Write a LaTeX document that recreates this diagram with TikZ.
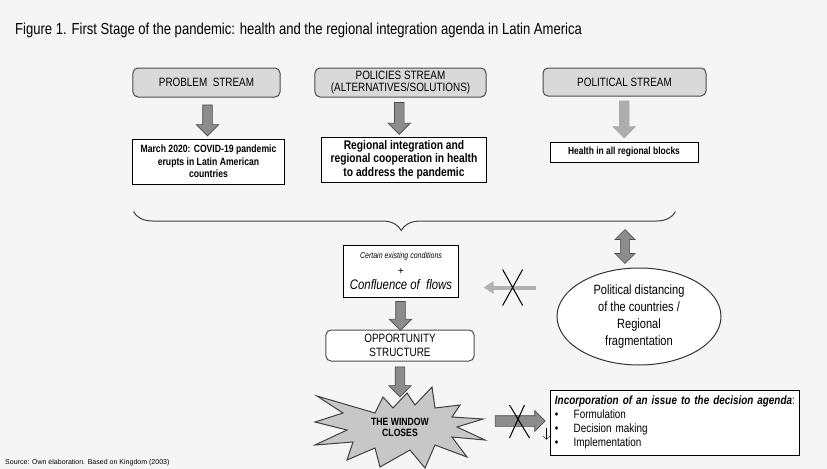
\documentclass[tikz,border=0pt]{standalone}
\usepackage{fontspec}
\setmainfont{Liberation Sans}
\newfontfamily\narrowfont[FakeStretch=0.82]{Liberation Sans}
\usetikzlibrary{calc,positioning,shapes.arrows,shapes.geometric,decorations.pathreplacing,arrows.meta}

\tikzset{
	streambox/.style={draw=black!70, fill=black!15, rounded corners=0.15cm, line width=0.3mm, align=center, inner sep=0, font=\narrowfont\fontsize{10.3}{11}\selectfont},
	factbox/.style={draw=black, fill=white, line width=0.3mm, align=center, inner sep=0, font=\narrowfont\bfseries\fontsize{9}{10.8}\selectfont},
	fatdown/.style={single arrow, draw=black!70, fill=black!45, line width=0.2mm, minimum width=0.66cm, single arrow head extend=0.195cm, inner xsep=0, inner ysep=0.135cm, rotate=-90},
	crossout/.style={line width=0.3mm, color=black},
}

\begin{document}
\begin{tikzpicture}[x=0.03cm, y=-0.03cm]
		%%%%% START %%%%%
		
		\fill[black!4] (0, 0) rectangle (827, 469);
		\useasboundingbox (0, 0) rectangle (827, 469);
		
		\node[anchor=west, inner sep=0, font=\narrowfont\fontsize{13.6}{15}\selectfont] (title) at (15, 30) {Figure 1. First Stage of the pandemic: health and the regional integration agenda in Latin America};
		
		% the three streams
		\node[streambox, minimum width=4.41cm, minimum height=0.87cm] (prob) at (206.5, 82.5) {PROBLEM\ \ STREAM};
		\node[streambox, minimum width=5.13cm, minimum height=0.87cm] (pol) at (400.5, 82.5) {POLICIES STREAM\\(ALTERNATIVES/SOLUTIONS)};
		\node[streambox, minimum width=4.89cm, minimum height=0.84cm] (polit) at (624.5, 82) {POLITICAL STREAM};
		
		\node[factbox, minimum width=4.53cm, minimum height=1.35cm] (march) at (208.5, 161.5) {March 2020: COVID-19 pandemic\\erupts in Latin American\\countries};
		\node[factbox, minimum width=4.92cm, minimum height=1.35cm, font=\narrowfont\bfseries\fontsize{10.7}{11.6}\selectfont] (reg) at (404, 159.5) {Regional integration and\\regional cooperation in health\\to address the pandemic};
		\node[factbox, minimum width=4.44cm, minimum height=0.6cm, font=\narrowfont\bfseries\fontsize{8.8}{10}\selectfont] (health) at (624, 152) {Health in all regional blocks};
		
		\node[fatdown, minimum height=0.93cm] (a1) at ($(prob.south)!0.5!(march.north)$) {};
		\node[fatdown, minimum height=0.96cm] (a2) at ($(pol.south)!0.5!(reg.north)+(-3, -1)$) {};
		\node[fatdown, minimum height=1.11cm, draw=black!32, fill=black!32] (a3) at ($(polit.south)!0.5!(health.north)+(0, -2)$) {};
		
		% brace under the streams
		\coordinate (brL) at ($(march.south west)+(1, 27)$);
		\coordinate (brR) at ($(brL)+(542, 0)$);
		\draw[line width=0.3mm, color=black!75, decorate, decoration={brace, mirror, amplitude=0.57cm, aspect=0.494}] (brL) -- (brR);
		
		% middle column
		\node[draw=black, fill=white, line width=0.3mm, minimum width=3.42cm, minimum height=1.56cm, align=center, inner sep=0] (cert) at (401, 271) {{\narrowfont\itshape\fontsize{7.3}{9}\selectfont Certain existing conditions}\\[1pt]{\fontsize{9}{10}\selectfont +}\\[1pt]{\narrowfont\itshape\fontsize{11.8}{13}\selectfont Confluence of\ \ flows}};
		\node[streambox, fill=white, minimum width=4.44cm, minimum height=0.93cm, font=\narrowfont\fontsize{10.3}{12}\selectfont] (opp) at (400, 345.5) {OPPORTUNITY\\STRUCTURE};
		\node[fatdown, minimum height=0.87cm] (a4) at ($(cert.south)!0.5!(opp.north)$) {};
		
		\coordinate (winc) at (400, 428);
		\draw[line width=0.3mm, color=black!75, fill=black!22, shift={(winc)}] (-85, -6) -- (-57, -15) -- (-83, -32) -- (-25, -15) -- (-17, -31) -- (-7, -20) -- (7, -35) -- (15, -23) -- (32, -41) -- (35, -20) -- (60, -23) -- (52, -11) -- (83, -9) -- (57, -1) -- (85, 12) -- (52, 9) -- (67, 29) -- (35, 17) -- (25, 40) -- (10, 22) -- (-20, 39) -- (-25, 20) -- (-53, 32) -- (-47, 14) -- (-85, 17) -- (-53, 2) -- cycle;
		\node[fatdown, minimum height=0.9cm] (a5) at ($(opp.south)+(0, 18)$) {};
		\node[align=center, inner sep=0, font=\narrowfont\bfseries\fontsize{9}{10}\selectfont] (win) at (400, 427.5) {THE WINDOW\\CLOSES};
		
		% right column
		\node[draw=black!80, fill=white, ellipse, line width=0.3mm, minimum width=4.92cm, minimum height=2.91cm, align=center, inner sep=0, font=\narrowfont\fontsize{11.5}{14.3}\selectfont] (pd) at (639, 316.5) {Political distancing\\of the countries /\\Regional\\fragmentation};
		\node[double arrow, draw=black!70, fill=black!45, line width=0.2mm, rotate=90, minimum height=1.02cm, minimum width=0.6cm, double arrow head extend=0.15cm, inner xsep=0, inner ysep=0.12cm] (dbl) at ($(pd.north)+(-14, -21)$) {};
		
		\coordinate (blkT) at ($(pd.west)+(-20, -29)$);
		\coordinate (blkH) at ($(cert.east)+(25, 0)$);
		\draw[line width=0.12cm, color=black!30, -{Triangle[width=0.36cm, length=0.3cm]}] (blkT) -- (blkT -| blkH);
		\coordinate (blkX) at ($(blkT)!0.45!(blkT -| blkH)$);
		\draw[crossout] ($(blkX)+(-10, -18)$) -- ($(blkX)+(10, 18)$);
		\draw[crossout] ($(blkX)+(10, -18)$) -- ($(blkX)+(-10, 18)$);
		
		\node[draw=black, fill=white, line width=0.3mm, minimum width=7.44cm, minimum height=1.95cm, text width=7.2cm, align=left, inner sep=0.12cm, font=\narrowfont\fontsize{10.3}{12}\selectfont] (inc) at (675, 422.5) {{\bfseries\itshape Incorporation of an issue to the decision agenda}:\\\makebox[16pt][l]{\textbullet}Formulation\\\makebox[16pt][l]{\textbullet}Decision making\\\makebox[16pt][l]{\textbullet}Implementation};
		
		\node[single arrow, draw=black!70, fill=black!45, line width=0.2mm, minimum width=0.6cm, single arrow head extend=0.15cm, inner xsep=0, inner ysep=0.15cm, minimum height=1.5cm] (s2i) at ($(inc.west)+(-33, -1.5)$) {};
		\draw[crossout] ($(s2i.center)+(-8, -16)$) -- ($(s2i.center)+(12, 17)$);
		\draw[crossout] ($(s2i.center)+(7, -16)$) -- ($(s2i.center)+(-8, 17)$);
		\draw[line width=0.1mm, -{Straight Barb[length=1mm]}] ($(inc.south west)+(-4, -28)$) -- ($(inc.south west)+(-4, -16)$);
		
		\node[anchor=west, inner sep=0, font=\fontsize{6}{7}\selectfont] (src) at (5, 463) {Source: Own elaboration. Based on Kingdom (2003)};
		
		%%%%% END %%%%%
	\end{tikzpicture}
\end{document}
